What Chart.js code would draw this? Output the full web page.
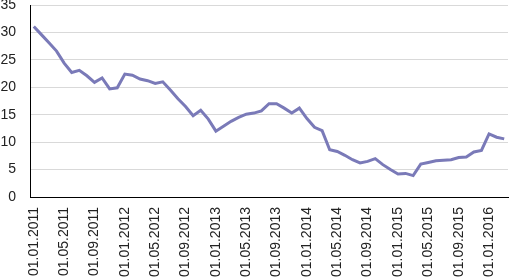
<!DOCTYPE html>
<html>
<head>
<meta charset="utf-8">
<script src="https://cdn.jsdelivr.net/npm/chart.js@4"></script>
<style>
  html, body { margin: 0; padding: 0; background: #ffffff; }
  #wrap { width: 509px; height: 280px; position: relative; }
</style>
</head>
<body>
<div id="wrap"><canvas id="c" width="509" height="280"></canvas></div>
<script>
// Months from 01.01.2011 to 01.03.2016
const years = [2011, 2012, 2013, 2014, 2015, 2016];
const categories = [];
for (const y of years) {
  for (let m = 1; m <= 12; m++) {
    if (y === 2016 && m > 3) break;
    categories.push('01.' + String(m).padStart(2, '0') + '.' + y);
  }
}
const values = [
  31.1, 29.6, 28.1, 26.6, 24.4, 22.7, 23.1, 22.1, 20.9, 21.7, 19.7, 19.9,
  22.4, 22.2, 21.5, 21.2, 20.7, 21.0, 19.5, 17.9, 16.5, 14.8, 15.8, 14.2,
  12.0, 12.9, 13.8, 14.5, 15.1, 15.3, 15.7, 17.0, 17.0, 16.2, 15.3, 16.2,
  14.3, 12.7, 12.1, 8.6, 8.3, 7.6, 6.8, 6.2, 6.5, 7.0, 5.9, 5.0,
  4.2, 4.3, 3.9, 6.0, 6.3, 6.6, 6.7, 6.8, 7.2, 7.3, 8.2, 8.5,
  11.5, 10.9, 10.6
];
const yTicks = [0, 5, 10, 15, 20, 25, 30, 35];
const labelEvery = 4;

const font = { family: "'Liberation Sans', Arial, sans-serif", size: 14 };

new Chart(document.getElementById('c'), {
  type: 'line',
  data: {
    labels: categories,
    datasets: [{
      data: values,
      borderColor: '#7a7ab8',
      borderWidth: 3,
      pointRadius: 0,
      tension: 0,
      fill: false
    }]
  },
  options: {
    responsive: false,
    animation: false,
    devicePixelRatio: 1,
    layout: { padding: { top: 5, right: 1, left: 0, bottom: 0 } },
    plugins: { legend: { display: false }, tooltip: { enabled: false } },
    scales: {
      x: {
        type: 'category',
        offset: true,
        grid: { display: false, drawTicks: false },
        border: { display: true, color: '#000000', width: 1 },
        ticks: {
          autoSkip: false,
          minRotation: 90,
          maxRotation: 90,
          padding: 10,
          color: '#222222',
          font: font,
          callback: function (v, i) { return i % labelEvery === 0 ? categories[i] : ''; }
        },
        afterFit: function (s) { s.height = 83; s.paddingLeft = 0; s.paddingRight = 0; }
      },
      y: {
        min: 0,
        max: 35,
        afterBuildTicks: function (s) { s.ticks = yTicks.map(v => ({ value: v })); },
        grid: { color: '#d9d9d9', lineWidth: 1, drawTicks: false },
        border: { display: true, color: '#000000', width: 1 },
        ticks: { padding: 14, color: '#222222', font: font },
        afterFit: function (s) { s.width = 30; s.paddingTop = 0; s.paddingBottom = 0; }
      }
    }
  }
});
</script>
</body>
</html>
